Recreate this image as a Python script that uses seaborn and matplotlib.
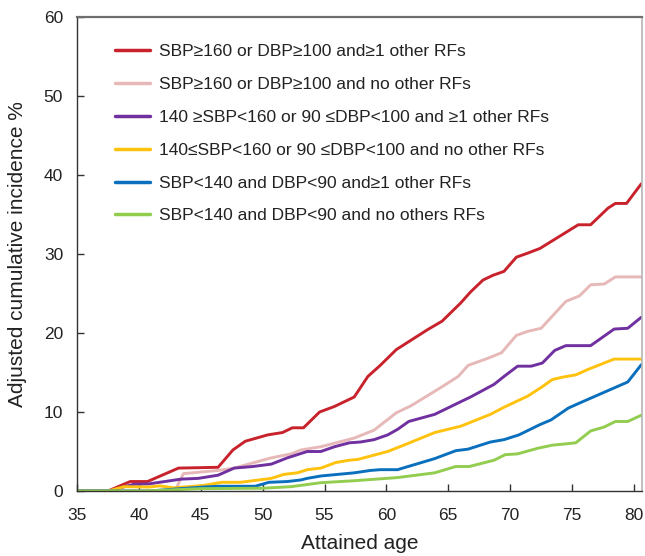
import numpy as np
import pandas as pd
import matplotlib
matplotlib.use("Agg")
import matplotlib.pyplot as plt
import seaborn as sns

# ---- data ----
labels = [
    "SBP\u2265160 or DBP\u2265100 and\u22651 other RFs",
    "SBP\u2265160 or DBP\u2265100 and no other RFs",
    "140 \u2265SBP<160 or 90 \u2264DBP<100 and \u22651 other RFs",
    "140\u2264SBP<160 or 90 \u2264DBP<100 and no other RFs",
    "SBP<140 and DBP<90 and\u22651 other RFs",
    "SBP<140 and DBP<90 and no others RFs",
]
colors = ["#C8232C", "#E6B9B8", "#7030A0", "#FFC20E", "#0A70BE", "#92CD50"]

ages_red = [35, 37.5, 39.3, 40.7, 43.2, 46.4, 47.6, 48.6, 50.4, 51.6, 52.4, 53.3, 54.6, 55.8,
            57.4, 58.5, 59.5, 60.8, 62.0, 63.3, 64.5, 66.0, 66.8, 67.8, 68.6, 69.5, 70.5,
            71.4, 72.4, 75.5, 76.5, 77.9, 78.5, 79.4, 80.6]
vals_red = [0, 0, 1.2, 1.2, 2.9, 3.0, 5.2, 6.3, 7.1, 7.4, 8.0, 8.0, 10.0, 10.7,
            11.9, 14.5, 15.9, 17.9, 19.1, 20.4, 21.5, 23.8, 25.2, 26.7, 27.3, 27.8, 29.6,
            30.1, 30.7, 33.7, 33.7, 35.8, 36.4, 36.4, 38.9]

ages_pink = [35, 42.9, 43.6, 46.4, 47.7, 50.7, 52.3, 53.1, 54.7, 57.4, 59.0, 60.8, 62.0,
             64.5, 65.8, 66.6, 68.2, 69.3, 70.5, 71.4, 72.5, 74.5, 75.6, 76.5, 77.6, 78.5, 80.6]
vals_pink = [0, 0, 2.2, 2.6, 2.9, 4.2, 4.7, 5.2, 5.6, 6.7, 7.7, 9.9, 10.8,
             13.2, 14.5, 15.9, 16.8, 17.5, 19.7, 20.2, 20.6, 24.0, 24.7, 26.1, 26.2, 27.1, 27.1]

ages_purple = [35, 37.5, 39.6, 40.8, 43.4, 44.8, 46.4, 47.7, 49.2, 50.7, 52.0, 53.6, 54.7,
               55.8, 57.0, 57.9, 59.0, 60.1, 60.9, 61.8, 63.9, 66.0, 66.8, 68.7, 69.5, 70.6,
               71.7, 72.6, 73.6, 74.5, 76.5, 78.4, 79.5, 80.6]
vals_purple = [0, 0, 0.85, 0.9, 1.5, 1.6, 2.0, 2.9, 3.1, 3.4, 4.2, 5.0, 5.0,
               5.6, 6.1, 6.2, 6.5, 7.1, 7.8, 8.8, 9.7, 11.3, 11.9, 13.5, 14.5, 15.8,
               15.8, 16.2, 17.8, 18.4, 18.4, 20.5, 20.6, 22.0]

ages_yellow = [35, 37.5, 38.8, 40.8, 41.7, 42.8, 45.2, 46.7, 48.2, 50.7, 51.7, 52.8, 53.6,
               54.7, 55.9, 57.0, 57.7, 60.1, 61.4, 63.9, 66.0, 68.4, 69.5, 71.4, 72.5, 73.4,
               74.2, 75.3, 76.3, 78.4, 80.6]
vals_yellow = [0, 0, 0.55, 0.5, 0.65, 0.4, 0.7, 1.1, 1.1, 1.6, 2.1, 2.3, 2.7,
               2.9, 3.6, 3.9, 4.0, 5.0, 5.8, 7.4, 8.2, 9.7, 10.6, 12.0, 13.1, 14.1,
               14.4, 14.7, 15.4, 16.7, 16.7]

ages_blue = [35, 40.8, 43.4, 45.2, 46.4, 49.4, 50.5, 52.0, 53.1, 53.6, 54.7, 57.4, 58.7,
             59.5, 60.9, 63.9, 65.6, 66.6, 68.4, 69.5, 70.7, 72.4, 73.3, 74.7, 75.7, 79.5, 80.6]
vals_blue = [0, 0, 0.3, 0.5, 0.6, 0.6, 1.1, 1.2, 1.4, 1.6, 1.9, 2.3, 2.6,
             2.7, 2.7, 4.1, 5.1, 5.3, 6.2, 6.5, 7.1, 8.4, 9.0, 10.5, 11.2, 13.8, 16.0]

ages_green = [35, 40.5, 45.0, 50.0, 52.3, 54.7, 57.4, 60.9, 63.9, 65.6, 66.7, 68.7, 69.6,
              70.6, 72.2, 73.4, 74.4, 75.3, 76.5, 77.6, 78.5, 79.5, 80.6]
vals_green = [0, 0, 0.3, 0.35, 0.55, 1.05, 1.3, 1.7, 2.3, 3.1, 3.1, 3.9, 4.6,
              4.7, 5.4, 5.8, 5.95, 6.1, 7.6, 8.1, 8.8, 8.8, 9.6]

x_ticks = [35, 40, 45, 50, 55, 60, 65, 70, 75, 80]
y_ticks = [0, 10, 20, 30, 40, 50, 60]

series = [(ages_red, vals_red), (ages_pink, vals_pink), (ages_purple, vals_purple),
          (ages_yellow, vals_yellow), (ages_blue, vals_blue), (ages_green, vals_green)]

frames = []
for lab, (a, v) in zip(labels, series):
    frames.append(pd.DataFrame({"age": a, "value": v, "group": lab}))
df = pd.concat(frames, ignore_index=True)

# ---- plot ----
sns.set_theme(style="white")
plt.rcParams["font.family"] = ["Liberation Sans", "DejaVu Sans"]

fig = plt.figure(figsize=(6.45, 5.56), dpi=100)
ax = fig.add_axes([77 / 645, 1 - 491 / 556, 565 / 645, 474 / 556])

sns.lineplot(data=df, x="age", y="value", hue="group", hue_order=labels,
             palette=dict(zip(labels, colors)), estimator=None, sort=False,
             linewidth=2.1, ax=ax)

ax.set_xlim(35, 80.65)
ax.set_ylim(0, 60)
ax.set_xticks(x_ticks)
ax.set_yticks(y_ticks)
ax.tick_params(axis="x", which="both", bottom=True, top=False)
ax.tick_params(axis="y", which="both", left=True, right=False)
ax.tick_params(axis="both", direction="in", length=5, width=1, color="#333333",
               labelsize=12.5, labelcolor="#222222")
ax.tick_params(axis="x", pad=12)
ax.tick_params(axis="y", pad=10)

ax.set_xlabel("Attained age", fontsize=15, color="#222222", labelpad=8)
ax.set_ylabel("Adjusted cumulative incidence %", fontsize=15, color="#222222", labelpad=12)

for side in ["left", "bottom"]:
    ax.spines[side].set_color("#333333")
    ax.spines[side].set_linewidth(1.0)
ax.spines["top"].set_color("#6e6e6e")
ax.spines["top"].set_linewidth(1.6)
ax.spines["right"].set_color("#b5b5b5")
ax.spines["right"].set_linewidth(1.2)

handles, _ = ax.get_legend_handles_labels()
leg = ax.legend(handles=handles, labels=labels, loc="upper left",
                bbox_to_anchor=(0.067, 0.943), frameon=False, fontsize=12.5,
                handlelength=2.0, handletextpad=0.55, labelspacing=1.02,
                borderpad=0, borderaxespad=0)
for t in leg.get_texts():
    t.set_color("#222222")
for line in leg.get_lines():
    line.set_linewidth(2.5)

fig.savefig("out.png", dpi=100)
